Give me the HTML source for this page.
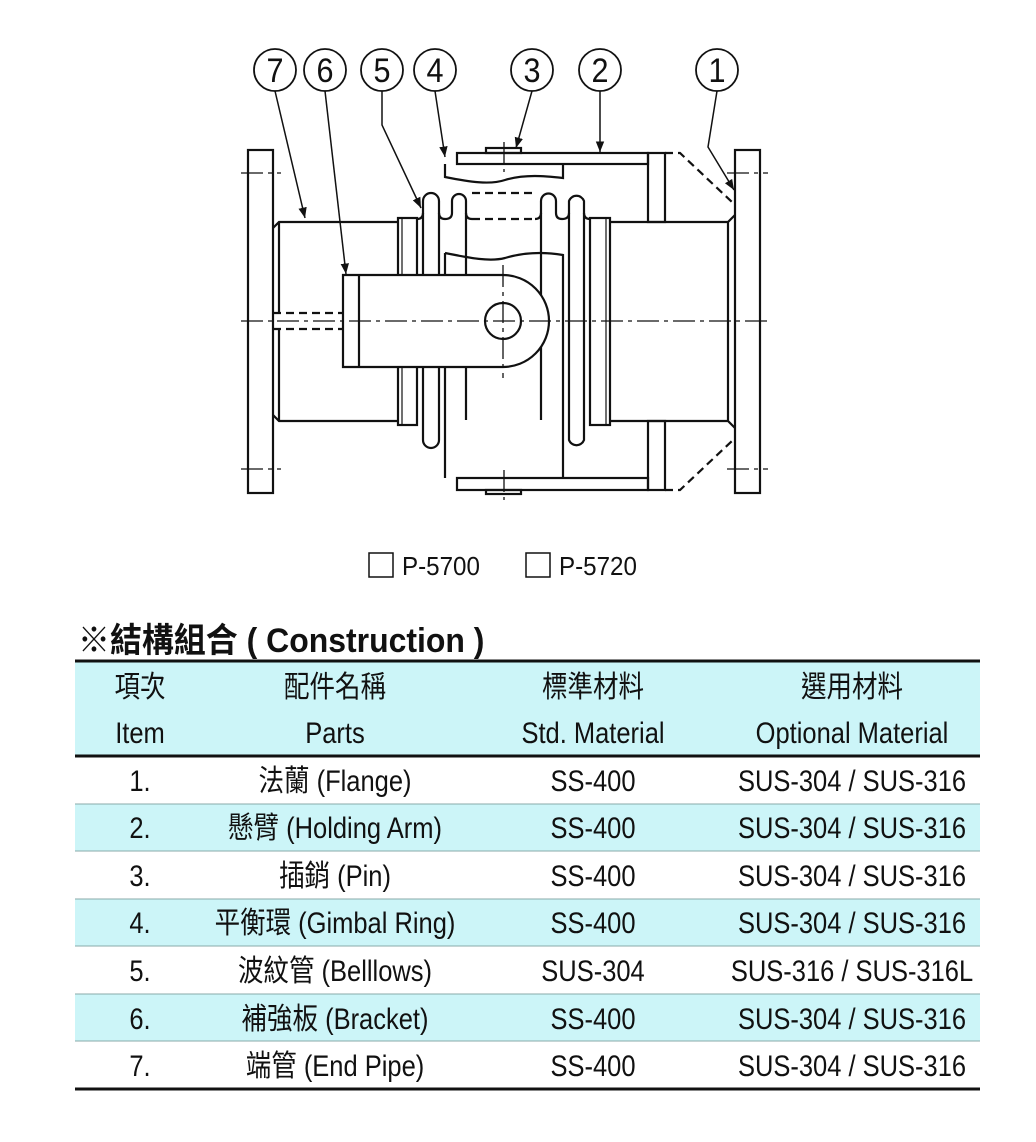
<!DOCTYPE html>
<html><head><meta charset="utf-8"><style>
html,body{margin:0;padding:0;background:#fff;}
svg{display:block;}
text{font-family:"Liberation Sans","Noto Sans CJK TC",sans-serif;fill:#111;}
</style></head><body>
<svg width="1036" height="1142" viewBox="0 0 1036 1142" xmlns="http://www.w3.org/2000/svg">
<defs><marker id="ar" viewBox="0 0 10 10" refX="10" refY="5" markerWidth="7" markerHeight="7" orient="auto"><path d="M0,1 L10,5 L0,9 z" fill="#111"/></marker></defs>
<g fill="none" stroke="#111" stroke-width="2.2">
<rect x="248" y="150" width="25" height="343"/>
<rect x="735" y="150" width="25" height="343"/>
<path d="M273,228 L279,222 L398,222 M273,415 L279,421 L398,421 M279,222 L279,313 M279,329 L279,421"/>
<rect x="398" y="218" width="19" height="207"/>
<line x1="402" y1="218" x2="402" y2="425" stroke-width="1.2"/>
<rect x="590" y="218" width="20" height="207"/>
<line x1="606" y1="218" x2="606" y2="425" stroke-width="1.2"/>
<path d="M610,222 L728,222 L735,215 M610,421 L728,421 L735,428 M728,222 L728,421"/>
<path d="M417,219 q6,0 6,-6 L423,201 a8,8 0 0 1 16,0 L439,213 q0,6 6,6 q7,0 7,-6 L452,201 a7,7 0 0 1 14,0 L466,420"/>
<path d="M423,213 L423,440 a8,8 0 0 0 16,0 L439,213"/>
<path d="M541,420 L541,201 a7,7 0 0 1 15,0 L556,213 q0,6 6,6 q7,0 7,-6 L569,201 a8,8 0 0 1 15,0 L584,213 q0,6 6,6"/>
<path d="M569,213 L569,440 a8,8 0 0 0 15,0 L584,213"/>
<path d="M466,213 q0,6 6,6 M541,213 q0,6 -6,6"/>
<path d="M472,193 L535,193 M472,219 L535,219" stroke-dasharray="8,5"/>
<rect x="457" y="153" width="191" height="11"/>
<rect x="648" y="153" width="17" height="69"/>
<rect x="648" y="421" width="17" height="69"/>
<rect x="457" y="478" width="191" height="12"/>
<path d="M665,153 L680,153 L733,203 M665,490 L680,490 L733,440" stroke-dasharray="8,5"/>
<rect x="486" y="148" width="35" height="5"/>
<rect x="486" y="490" width="35" height="4"/>
<path d="M445,164 L445,177 C470,182 490,185 505,180 C525,174 545,176 563,178 L563,164"/>
<path d="M445,253 C470,258 490,262 505,258 C525,252 545,252 563,255 L563,478 M445,253 L445,478"/>
<path d="M343,275 L503,275 A46,46 0 0 1 549,321 A46,46 0 0 1 503,367 L343,367 Z" fill="#fff"/>
<line x1="359" y1="275" x2="359" y2="367"/>
<circle cx="503" cy="321" r="18"/>
<path d="M273,313 L343,313 M273,329 L343,329" stroke-dasharray="8,5"/>
<g stroke-width="1.3" stroke-dasharray="22,5,4,5">
<line x1="241" y1="321" x2="768" y2="321"/>
<line x1="503" y1="265" x2="503" y2="378"/>
<line x1="504" y1="142" x2="504" y2="172"/>
<line x1="504" y1="470" x2="504" y2="500"/>
<line x1="241" y1="173" x2="281" y2="173"/>
<line x1="241" y1="469" x2="281" y2="469"/>
<line x1="727" y1="173" x2="768" y2="173"/>
<line x1="727" y1="469" x2="768" y2="469"/>
</g>
<g stroke-width="1.8">
<circle cx="275" cy="70" r="21"/><circle cx="325" cy="70" r="21"/><circle cx="382" cy="70" r="21"/><circle cx="435" cy="70" r="21"/><circle cx="532" cy="70" r="21"/><circle cx="600" cy="70" r="21"/><circle cx="717" cy="70" r="21"/>
</g>
<g stroke-width="1.5" marker-end="url(#ar)">
<line x1="275" y1="91" x2="305" y2="218"/>
<line x1="325" y1="91" x2="346" y2="274"/>
<path d="M382,91 L382,125 L421,208"/>
<line x1="435" y1="91" x2="445" y2="157"/>
<line x1="532" y1="91" x2="516" y2="148"/>
<line x1="600" y1="91" x2="600" y2="152"/>
<path d="M717,91 L708,147 L734,190"/>
</g>
</g>
<g font-size="34" text-anchor="middle">
<g transform="translate(275,82) scale(0.9,1)"><text>7</text></g>
<g transform="translate(325,82) scale(0.9,1)"><text>6</text></g>
<g transform="translate(382,82) scale(0.9,1)"><text>5</text></g>
<g transform="translate(435,82) scale(0.9,1)"><text>4</text></g>
<g transform="translate(532,82) scale(0.9,1)"><text>3</text></g>
<g transform="translate(600,82) scale(0.9,1)"><text>2</text></g>
<g transform="translate(717,82) scale(0.9,1)"><text>1</text></g>
</g>
<rect x="369" y="553" width="24" height="24" fill="none" stroke="#111" stroke-width="1.5"/>
<rect x="526" y="553" width="24" height="24" fill="none" stroke="#111" stroke-width="1.5"/>
<g transform="translate(402,575) scale(0.93,1)"><text font-size="26">P-5700</text></g>
<g transform="translate(559,575) scale(0.93,1)"><text font-size="26">P-5720</text></g>
<g transform="translate(78,652) scale(0.94,1)"><text font-size="34" font-weight="bold">※結構組合 ( Construction )</text></g>
<rect x="75" y="662" width="905" height="93" fill="#ccf5f8"/>
<rect x="75" y="804" width="905" height="47" fill="#ccf5f8"/>
<rect x="75" y="899" width="905" height="47" fill="#ccf5f8"/>
<rect x="75" y="994" width="905" height="47" fill="#ccf5f8"/>
<line x1="75" y1="661" x2="980" y2="661" stroke="#111" stroke-width="3"/>
<line x1="75" y1="756" x2="980" y2="756" stroke="#111" stroke-width="3"/>
<g stroke="#8aa" stroke-width="1">
<line x1="75" y1="804" x2="980" y2="804"/><line x1="75" y1="851" x2="980" y2="851"/><line x1="75" y1="899" x2="980" y2="899"/><line x1="75" y1="946" x2="980" y2="946"/><line x1="75" y1="994" x2="980" y2="994"/><line x1="75" y1="1041" x2="980" y2="1041"/>
</g>
<line x1="75" y1="1089" x2="980" y2="1089" stroke="#111" stroke-width="3"/>
<g font-size="30" text-anchor="middle">
<g transform="translate(140,697) scale(0.85,1)"><text>項次</text></g>
<g transform="translate(335,697) scale(0.85,1)"><text>配件名稱</text></g>
<g transform="translate(593,697) scale(0.85,1)"><text>標準材料</text></g>
<g transform="translate(852,697) scale(0.85,1)"><text>選用材料</text></g>
<g transform="translate(140,743) scale(0.85,1)"><text>Item</text></g>
<g transform="translate(335,743) scale(0.85,1)"><text>Parts</text></g>
<g transform="translate(593,743) scale(0.85,1)"><text>Std. Material</text></g>
<g transform="translate(852,743) scale(0.85,1)"><text>Optional Material</text></g>

<g transform="translate(140,791) scale(0.85,1)"><text>1.</text></g>
<g transform="translate(335,791) scale(0.85,1)"><text>法蘭 (Flange)</text></g>
<g transform="translate(593,791) scale(0.85,1)"><text>SS-400</text></g>
<g transform="translate(852,791) scale(0.85,1)"><text>SUS-304 / SUS-316</text></g>

<g transform="translate(140,838) scale(0.85,1)"><text>2.</text></g>
<g transform="translate(335,838) scale(0.85,1)"><text>懸臂 (Holding Arm)</text></g>
<g transform="translate(593,838) scale(0.85,1)"><text>SS-400</text></g>
<g transform="translate(852,838) scale(0.85,1)"><text>SUS-304 / SUS-316</text></g>

<g transform="translate(140,886) scale(0.85,1)"><text>3.</text></g>
<g transform="translate(335,886) scale(0.85,1)"><text>插銷 (Pin)</text></g>
<g transform="translate(593,886) scale(0.85,1)"><text>SS-400</text></g>
<g transform="translate(852,886) scale(0.85,1)"><text>SUS-304 / SUS-316</text></g>

<g transform="translate(140,933) scale(0.85,1)"><text>4.</text></g>
<g transform="translate(335,933) scale(0.85,1)"><text>平衡環 (Gimbal Ring)</text></g>
<g transform="translate(593,933) scale(0.85,1)"><text>SS-400</text></g>
<g transform="translate(852,933) scale(0.85,1)"><text>SUS-304 / SUS-316</text></g>

<g transform="translate(140,981) scale(0.85,1)"><text>5.</text></g>
<g transform="translate(335,981) scale(0.85,1)"><text>波紋管 (Belllows)</text></g>
<g transform="translate(593,981) scale(0.85,1)"><text>SUS-304</text></g>
<g transform="translate(852,981) scale(0.85,1)"><text>SUS-316 / SUS-316L</text></g>

<g transform="translate(140,1029) scale(0.85,1)"><text>6.</text></g>
<g transform="translate(335,1029) scale(0.85,1)"><text>補強板 (Bracket)</text></g>
<g transform="translate(593,1029) scale(0.85,1)"><text>SS-400</text></g>
<g transform="translate(852,1029) scale(0.85,1)"><text>SUS-304 / SUS-316</text></g>

<g transform="translate(140,1076) scale(0.85,1)"><text>7.</text></g>
<g transform="translate(335,1076) scale(0.85,1)"><text>端管 (End Pipe)</text></g>
<g transform="translate(593,1076) scale(0.85,1)"><text>SS-400</text></g>
<g transform="translate(852,1076) scale(0.85,1)"><text>SUS-304 / SUS-316</text></g>
</g>
</svg>
</body></html>
